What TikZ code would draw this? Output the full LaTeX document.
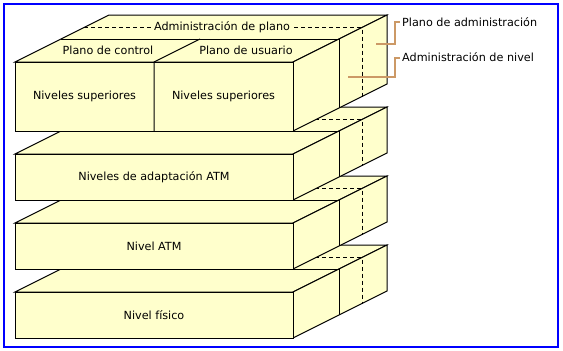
\documentclass[tikz,border=0pt]{standalone}
\usepackage{fontspec}
\setmainfont{DejaVu Sans}
\usetikzlibrary{positioning}
\definecolor{AtmYellow}{HTML}{FFFFCC}
\definecolor{AtmTan}{HTML}{CC9966}
\definecolor{AtmBlue}{HTML}{0000FF}

\begin{document}
\begin{tikzpicture}[x=1pt, y=-1pt, line join=miter,
    face/.style={fill=AtmYellow, draw=black, line width=1pt},
    edge/.style={draw=black, line width=1pt},
    hidden/.style={draw=black, line width=1pt, dash pattern=on 4pt off 3pt},
    pointer/.style={draw=AtmTan, line width=2pt},
    lbl/.style={font=\fontsize{11.2}{13}\selectfont, inner sep=2pt}]

    \useasboundingbox (0,0) rectangle (563,351);

    % ========== Frame ==========
    \draw[AtmBlue, line width=2pt] (3.5,3.5) rectangle (558,347);

    % ========== Nivel fisico ==========
    \begin{scope}[shift={(0,138)}]
        \filldraw[face] (15,154) -- (293,154) -- (387,107) -- (109,107) -- cycle;
        \filldraw[face] (293,154) -- (387,107) -- (387,153) -- (293,200) -- cycle;
        \filldraw[face] (15,154) rectangle (293,200);
        \draw[edge] (61,131) -- (339,131) -- (339,177);
        \draw[hidden] (84,119.5) -- (362,119.5) -- (362,165.5);
        \node[lbl] (fisico) at (154,177) {Nivel físico};
    \end{scope}

    % ========== Nivel ATM ==========
    \begin{scope}[shift={(0,69)}]
        \filldraw[face] (15,154) -- (293,154) -- (387,107) -- (109,107) -- cycle;
        \filldraw[face] (293,154) -- (387,107) -- (387,153) -- (293,200) -- cycle;
        \filldraw[face] (15,154) rectangle (293,200);
        \draw[edge] (61,131) -- (339,131) -- (339,177);
        \draw[hidden] (84,119.5) -- (362,119.5) -- (362,165.5);
        \node[lbl] (atm) at (154,177) {Nivel ATM};
    \end{scope}

    % ========== Niveles de adaptacion ATM ==========
    \begin{scope}
        \filldraw[face] (15,154) -- (293,154) -- (387,107) -- (109,107) -- cycle;
        \filldraw[face] (293,154) -- (387,107) -- (387,153) -- (293,200) -- cycle;
        \filldraw[face] (15,154) rectangle (293,200);
        \draw[edge] (61,131) -- (339,131) -- (339,177);
        \draw[hidden] (84,119.5) -- (362,119.5) -- (362,165.5);
        \node[lbl] (adapt) at (154,177) {Niveles de adaptación ATM};
    \end{scope}

    % ========== Niveles superiores ==========
    \filldraw[face] (15,62) -- (293,62) -- (387,15) -- (109,15) -- cycle;
    \filldraw[face] (293,62) -- (387,15) -- (387,84) -- (293,131) -- cycle;
    \filldraw[face] (15,62) rectangle (293,131);

    % control / user split
    \draw[edge] (154,131) -- (154,62) -- (200,39);

    % level management
    \draw[edge] (61,39) -- (339,39) -- (339,108);

    % plane management
    \draw[hidden] (84,27.5) -- (362,27.5) -- (362,96.5);
    \node[lbl, fill=AtmYellow, inner sep=3pt] (planeadm) at (222,27.5) {Administración de plano};

    \node[lbl] (ctrl) at (108,50.5) {Plano de control};
    \node[lbl] (user) at (246,50.5) {Plano de usuario};
    \node[lbl] (supctrl) at (84.5,96) {Niveles superiores};
    \node[lbl] (supuser) at (223.5,96) {Niveles superiores};

    % ========== Pointers ==========
    \node[lbl, anchor=west] (mgmtplane) at (400,22) {Plano de administración};
    \node[lbl, anchor=west] (mgmtlevel) at (400,57.5) {Administración de nivel};

    \coordinate (planetip) at (376,44);
    \coordinate (leveltip) at (348,77);

    \draw[pointer] (planetip) -- (395,44) |- (mgmtplane.west);
    \draw[pointer] (leveltip) -- (395,77) |- (mgmtlevel.west);

\end{tikzpicture}
\end{document}
